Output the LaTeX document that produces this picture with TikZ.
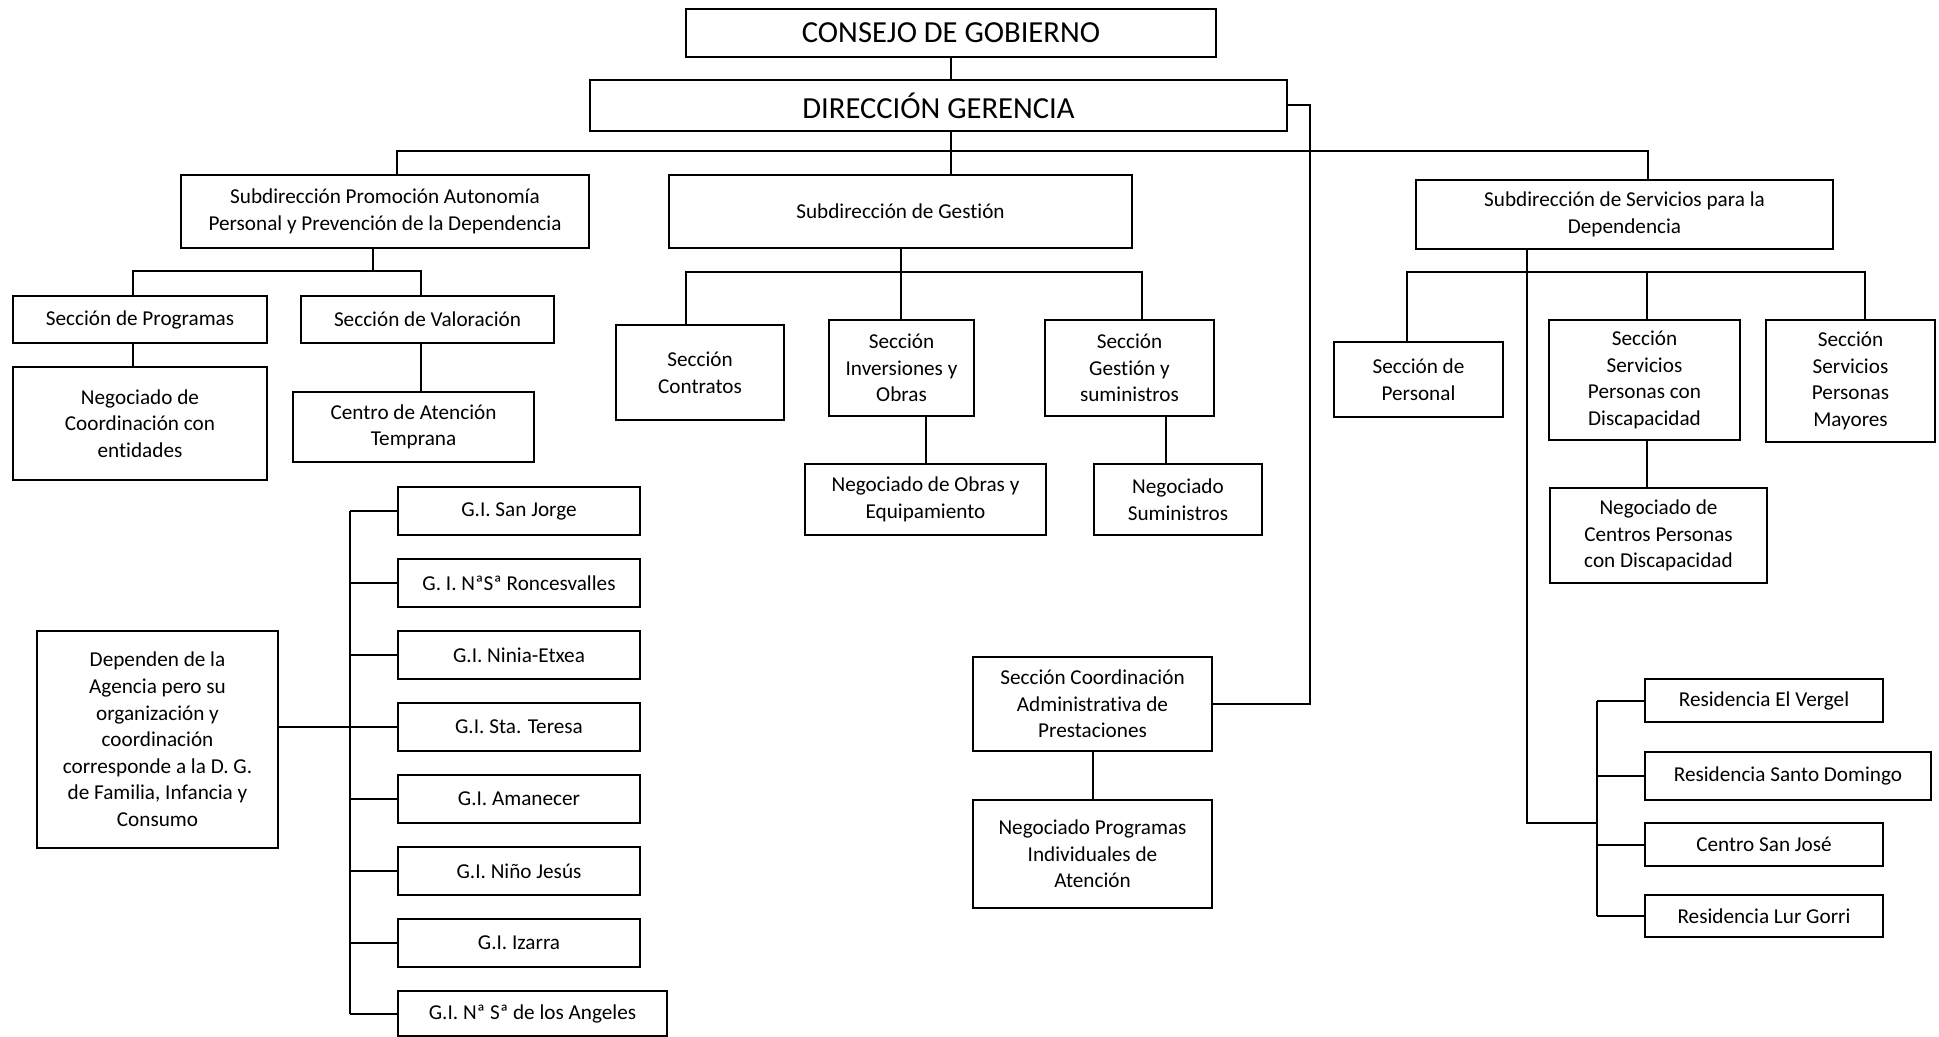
\documentclass[tikz,border=0pt]{standalone}
\usepackage{fontspec}
\setmainfont{Carlito}[Ligatures={NoCommon}]
\usepackage{tikz}
\tikzset{
x=0.5pt, % one unit is one pixel of the chart
y=-0.5pt, % y grows downwards, as in the chart
unit/.style={draw, line width=1pt, align=center, inner sep=1pt, font=\fontsize{10.6}{13.3}\selectfont}, % every box of the chart
head/.style={unit, font=\fontsize{15.3}{18}\selectfont}, % the two boxes at the top
size/.style 2 args={minimum width=#1*0.5pt, minimum height=#2*0.5pt}, % box size in pixels
link/.style={line width=1pt}, % the lines between boxes
}

\begin{document}
\begin{tikzpicture}
% background and page size
\fill[white] (0,0) rectangle (1939,1037);
\useasboundingbox (0,0) rectangle (1939,1037);

% top
\node[head, size={530}{48}] (cg) at (951,33) {CONSEJO DE GOBIERNO};
\node[head, size={697}{51}] (dg) at (938.5,105.5) {DIRECCIÓN GERENCIA};

% subdirecciones
\node[unit, size={408}{73}] (s1) at (385,211.5) {Subdirección Promoción Autonomía\\Personal y Prevención de la Dependencia};
\node[unit, size={463}{73}] (s2) at (900.5,211.5) {Subdirección de Gestión};
\node[unit, size={417}{69}] (s3) at (1624.5,214.5) {Subdirección de Servicios para la\\Dependencia};

% promocion autonomia
\node[unit, size={254}{47}] (prog) at (140,319.5) {Sección de Programas};
\node[unit, size={253}{47}] (valo) at (427.5,319.5) {Sección de Valoración};
\node[unit, size={254}{113}] (negcoord) at (140,423.5) {Negociado de\\Coordinación con\\entidades};
\node[unit, size={241}{70}] (temprana) at (413.5,427) {Centro de Atención\\Temprana};

% gestion
\node[unit, size={168}{95}] (contr) at (700,372.5) {Sección\\Contratos};
\node[unit, size={145}{96}] (inver) at (901.5,368) {Sección\\Inversiones y\\Obras};
\node[unit, size={169}{96}] (sumin) at (1129.5,368) {Sección\\Gestión y\\suministros};
\node[unit, size={241}{71}] (negobras) at (925.5,499.5) {Negociado de Obras y\\Equipamiento};
\node[unit, size={168}{71}] (negsumin) at (1178,499.5) {Negociado\\Suministros};

% servicios para la dependencia
\node[unit, size={169}{75}] (pers) at (1418.5,379.5) {Sección de\\Personal};
\node[unit, size={191}{120}] (discap) at (1644.5,380) {Sección\\Servicios\\Personas con\\Discapacidad};
\node[unit, size={169}{122}] (mayor) at (1850.5,381) {Sección\\Servicios\\Personas\\Mayores};
\node[unit, size={217}{95}] (negcentros) at (1658.5,535.5) {Negociado de\\Centros Personas\\con Discapacidad};
\node[unit, size={238}{43}] (vergel) at (1764,700.5) {Residencia El Vergel};
\node[unit, size={286}{48}] (domingo) at (1788,776) {Residencia Santo Domingo};
\node[unit, size={238}{43}] (jose) at (1764,844.5) {Centro San José};
\node[unit, size={238}{42}] (lurgorri) at (1764,916) {Residencia Lur Gorri};

% prestaciones
\node[unit, size={239}{94}] (prest) at (1092.5,704) {Sección Coordinación\\Administrativa de\\Prestaciones};
\node[unit, size={239}{108}] (negprog) at (1092.5,854) {Negociado Programas\\Individuales de\\Atención};

% guarderias
\node[unit, size={241}{217}] (dep) at (157.5,739.5) {Dependen de la\\Agencia pero su\\organización y\\coordinación\\corresponde a la D. G.\\de Familia, Infancia y\\Consumo};
\node[unit, size={242}{48}] (gi1) at (519,511) {G.I. San Jorge};
\node[unit, size={242}{48}] (gi2) at (519,583) {G. I. NªSª Roncesvalles};
\node[unit, size={242}{48}] (gi3) at (519,655) {G.I. Ninia-Etxea};
\node[unit, size={242}{48}] (gi4) at (519,727) {G.I. Sta. Teresa};
\node[unit, size={242}{48}] (gi5) at (519,799) {G.I. Amanecer};
\node[unit, size={242}{48}] (gi6) at (519,871) {G.I. Niño Jesús};
\node[unit, size={242}{48}] (gi7) at (519,943) {G.I. Izarra};
\node[unit, size={269}{45}] (gi8) at (532.5,1013.5) {G.I. Nª Sª de los Angeles};

% points where the lines turn
\coordinate (busL) at (397,151);
\coordinate (busR) at (1648,151);
\coordinate (a0) at (373,271);
\coordinate (a1) at (133,271);
\coordinate (a2) at (421,271);
\coordinate (b1) at (686,272);
\coordinate (b2) at (901,272);
\coordinate (b3) at (1142,272);
\coordinate (b4) at (1166,440);
\coordinate (c1) at (1407,272);
\coordinate (c2) at (1647,272);
\coordinate (c3) at (1865,272);
\coordinate (c0) at (1527,823);
\coordinate (e1) at (1597,823);
\coordinate (f1) at (1310,404);
\coordinate (h1) at (350,760);

% lines
\draw[link] (cg.south) -- (cg.south |- dg.north);
\draw[link] (cg.south |- dg.south) -- (cg.south |- s2.north);
\draw[link] (busL |- s1.north) -- (busL) -- (busR) -- (busR |- s3.north);
\draw[link] (dg.east) -- (f1 |- dg.east) |- (prest.east);
\draw[link] (prest) -- (negprog);

\draw[link] (a0 |- s1.south) -- (a0);
\draw[link] (a1 |- prog.north) -- (a1) -- (a2) -- (a2 |- valo.north);
\draw[link] (a1 |- prog.south) -- (a1 |- negcoord.north);
\draw[link] (a2 |- valo.south) -- (a2 |- temprana.north);

\draw[link] (b2 |- s2.south) -- (b2) -- (b2 |- inver.north);
\draw[link] (b1 |- contr.north) -- (b1) -- (b3) -- (b3 |- sumin.north);
\draw[link] (negobras.north |- inver.south) -- (negobras.north);
\draw[link] (b4 |- sumin.south) -- (b4 |- negsumin.north);

\draw[link] (c1 |- pers.north) -- (c1) -- (c3) -- (c3 |- mayor.north);
\draw[link] (c2) -- (c2 |- discap.north);
\draw[link] (c2 |- discap.south) -- (c2 |- negcentros.north);
\draw[link] (c0 |- s3.south) -- (c0) -- (e1);
\draw[link] (e1 |- vergel.west) -- (e1 |- lurgorri.west);
\draw[link] (e1 |- vergel.west) -- (vergel.west);
\draw[link] (e1 |- domingo.west) -- (domingo.west);
\draw[link] (e1 |- jose.west) -- (jose.west);
\draw[link] (e1 |- lurgorri.west) -- (lurgorri.west);

\draw[link] (h1 |- gi1.west) -- (h1 |- gi8.west);
\draw[link] (dep.east |- gi4.west) -- (gi4.west);
\draw[link] (h1 |- gi1.west) -- (gi1.west);
\draw[link] (h1 |- gi2.west) -- (gi2.west);
\draw[link] (h1 |- gi3.west) -- (gi3.west);
\draw[link] (h1 |- gi5.west) -- (gi5.west);
\draw[link] (h1 |- gi6.west) -- (gi6.west);
\draw[link] (h1 |- gi7.west) -- (gi7.west);
\draw[link] (h1 |- gi8.west) -- (gi8.west);
\end{tikzpicture}
\end{document}
